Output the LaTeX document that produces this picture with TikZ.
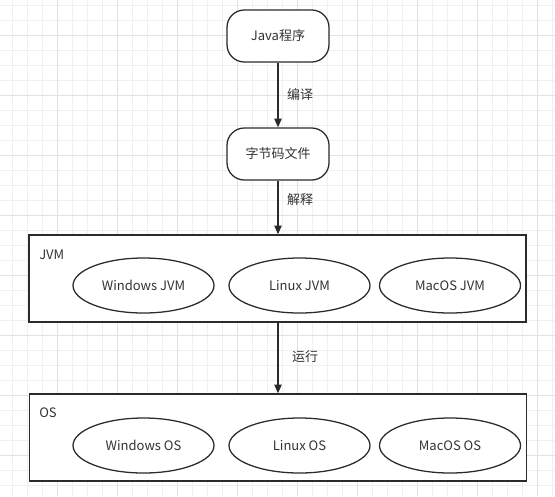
\documentclass[tikz,border=0pt]{standalone}
\usepackage{fontspec}
\setmainfont{Noto Sans CJK SC}
\usetikzlibrary{shapes.geometric,arrows.meta}
\definecolor{ln}{HTML}{2B2B2B}
\definecolor{tx}{HTML}{333333}
\definecolor{gminor}{HTML}{F0F0F0}
\definecolor{gmajor}{HTML}{E2E2E2}
\tikzset{
  txt/.style={font=\fontsize{9.75}{12}\selectfont, text=tx},
  prog/.style={txt, draw=ln, line width=0.95pt, rounded corners=13pt, minimum width=76.5pt, minimum height=39pt, inner sep=0pt, fill=white},
  platform/.style={draw=ln, line width=1.1pt, minimum width=372.75pt, minimum height=65.25pt, inner sep=0pt, fill=white},
  impl/.style={txt, ellipse, draw=ln, line width=0.95pt, minimum width=105.75pt, minimum height=41.25pt, inner sep=0pt},
  flow/.style={draw=ln, line width=0.95pt, -{Triangle[length=6.5pt,width=5.5pt]}},
  lbl/.style={txt, inner sep=0pt},
}
\begin{document}
\begin{tikzpicture}[x=0.75pt,y=-0.75pt]
\useasboundingbox (0,0) rectangle (555,496);
\fill[white] (0,0) rectangle (555,496);
% grid
\foreach \i in {12,27,...,555} \draw[gminor, line width=0.75pt] (\i,0) -- (\i,496);
\foreach \j in {5,20,...,496} \draw[gminor, line width=0.75pt] (0,\j) -- (555,\j);
\foreach \i in {57,117,...,555} \draw[gmajor, line width=0.75pt] (\i,0) -- (\i,496);
\foreach \j in {35,95,...,496} \draw[gmajor, line width=0.75pt] (0,\j) -- (555,\j);

\node[prog] (java) at (278,36) {Java程序};
\node[prog] (bc) at (278,154) {字节码文件};

\node[platform] (jvm) at (277.5,278.5) {};
\node[lbl, anchor=west] (jvmlbl) at (39,255) {JVM};
\node[impl] (wjvm) at (143.5,285.5) {Windows JVM};
\node[impl] (ljvm) at (299.5,285.5) {Linux JVM};
\node[impl] (mjvm) at (450,285.5) {MacOS JVM};

\node[platform] (os) at (278,437.5) {};
\node[lbl, anchor=west] (oslbl) at (39,413) {OS};
\node[impl] (wos) at (143.5,445.5) {Windows OS};
\node[impl] (los) at (299.5,445.5) {Linux OS};
\node[impl] (mos) at (450,445.5) {MacOS OS};

\draw[flow] (java.south) -- (bc.north);
\draw[flow] (bc.south) -- (bc.south |- jvm.north);
\draw[flow] (jvm.south -| bc.south) -- (bc.south |- os.north);

\node[lbl] (l1) at (300,95) {编译};
\node[lbl] (l2) at (300,200) {解释};
\node[lbl] (l3) at (305,357) {运行};
\end{tikzpicture}
\end{document}
